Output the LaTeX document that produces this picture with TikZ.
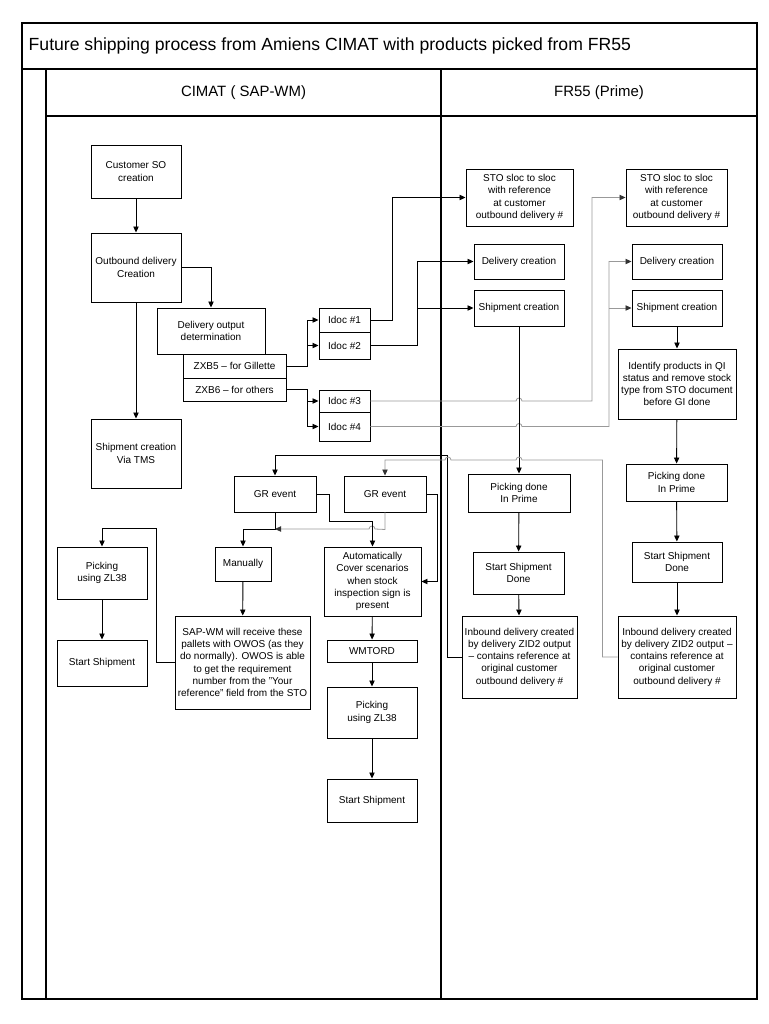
\documentclass[tikz,border=0pt]{standalone}
\usepackage{fontspec}
\setmainfont{Liberation Sans}
\usetikzlibrary{arrows.meta}

\begin{document}
\begin{tikzpicture}[x=0.75pt,y=-0.75pt,
  box/.style={draw,line width=0.7pt,align=center,inner sep=1pt,font=\fontsize{7.5}{9.2}\selectfont},
  boxsize/.style 2 args={minimum width=#1*0.75pt,minimum height=#2*0.75pt},
  arr/.style={line width=0.65pt,-{Triangle[length=4.5pt,width=4pt]}},
  garr/.style={line width=0.6pt,draw=black!40,-{Triangle[length=4.5pt,width=4pt,color=black!80]}},
  lane/.style={line width=1pt}]
\useasboundingbox (0,0) rectangle (768,1024);

% pool and lanes
\draw[line width=1.2pt] (22,23) rectangle (757,999);
\draw[line width=1.2pt] (22,69) -- (757,69);
\draw[lane] (46,69) -- (46,999);
\draw[lane] (441,69) -- (441,999);
\draw[lane] (46,116) -- (757,116);
\node[anchor=west,font=\fontsize{13.2}{15}\selectfont] (title) at (24,46) {Future shipping process from Amiens CIMAT with products picked from FR55};
\node[font=\fontsize{11.2}{13}\selectfont] (cimat) at (243.5,92.5) {CIMAT ( SAP-WM)};
\node[font=\fontsize{11.2}{13}\selectfont] (fr55) at (599,92.5) {FR55 (Prime)};

% CIMAT lane
\node[box,boxsize={90}{53}] (cso) at (136,171.5) {Customer SO\\creation};
\node[box,boxsize={90}{69}] (obd) at (136,267.5) {Outbound delivery\\Creation};
\node[box,boxsize={108}{46}] (dod) at (211,331) {Delivery output\\determination};
\node[box,boxsize={103}{24}] (zxb5) at (234.5,366) {ZXB5 -- for Gillette};
\node[box,boxsize={103}{23}] (zxb6) at (234.5,389.5) {ZXB6 -- for others};
\node[box,boxsize={90}{69}] (tms) at (136,453.5) {Shipment creation\\Via TMS};
\node[box,boxsize={51}{24}] (ido1) at (344.5,320) {Idoc \#1};
\node[box,boxsize={51}{27}] (ido2) at (344.5,345.5) {Idoc \#2};
\node[box,boxsize={51}{22}] (ido3) at (344.5,401) {Idoc \#3};
\node[box,boxsize={51}{29}] (ido4) at (344.5,426.5) {Idoc \#4};
\node[box,boxsize={82}{36}] (gr1) at (275,494) {GR event};
\node[box,boxsize={82}{36}] (gr2) at (385,494) {GR event};
\node[box,boxsize={56}{34}] (man) at (243,564) {Manually};
\node[box,boxsize={97}{69}] (auto) at (372.5,581.5) {Automatically\\Cover scenarios\\when stock\\inspection sign is\\present};
\node[box,boxsize={90}{22}] (wmt) at (372,651) {WMTORD};
\node[box,boxsize={90}{51}] (pick2) at (372,712.5) {Picking\\using ZL38};
\node[box,boxsize={90}{43}] (ss2) at (372,800.5) {Start Shipment};
\node[box,boxsize={135}{93}] (sapwm) at (242.5,662.5) {SAP-WM will receive these\\pallets with OWOS (as they\\do normally). OWOS is able\\to get the requirement\\number from the "Your\\reference" field from the STO};
\node[box,boxsize={90}{52}] (pick1) at (102,573) {Picking\\using ZL38};
\node[box,boxsize={90}{46}] (ss1) at (102,663) {Start Shipment};

% FR55 lane
\node[box,boxsize={107}{57}] (sto1) at (519.5,197.5) {STO sloc to sloc\\with reference\\at customer\\outbound delivery \#};
\node[box,boxsize={90}{35}] (dc1) at (519,261.5) {Delivery creation};
\node[box,boxsize={90}{36}] (sc1) at (519,308) {Shipment creation};
\node[box,boxsize={102}{38}] (pd1) at (519,493) {Picking done\\In Prime};
\node[box,boxsize={91}{42}] (ssd1) at (518.5,573) {Start Shipment\\Done};
\node[box,boxsize={115}{82}] (ibd1) at (519.5,657) {Inbound delivery created\\by delivery ZID2 output\\-- contains reference at\\original customer\\outbound delivery \#};
\node[box,boxsize={101}{57}] (sto2) at (676.5,197.5) {STO sloc to sloc\\with reference\\at customer\\outbound delivery \#};
\node[box,boxsize={90}{35}] (dc2) at (677,261.5) {Delivery creation};
\node[box,boxsize={90}{36}] (sc2) at (677,308) {Shipment creation};
\node[box,boxsize={118}{70}] (idp) at (677,384) {Identify products in QI\\status and remove stock\\type from STO document\\before GI done};
\node[box,boxsize={101}{37}] (pd2) at (676.5,482.5) {Picking done\\In Prime};
\node[box,boxsize={90}{40}] (ssd2) at (677,562) {Start Shipment\\Done};
\node[box,boxsize={118}{82}] (ibd2) at (677,657) {Inbound delivery created\\by delivery ZID2 output --\\contains reference at\\original customer\\outbound delivery \#};

% flow in CIMAT
\draw[arr] (cso) -- (obd);
\draw[arr] (obd.east) -| (dod.north);
\draw[arr] (obd) -- (tms);
\draw[arr] (zxb5.east) -- ++(21,0) coordinate (j5) |- (ido1.west);
\draw[arr] (ido2.west -| j5) -- (ido2.west);
\draw[arr] (zxb6.east) -- ++(21,0) coordinate (j6) |- (ido4.west);
\draw[arr] (ido3.west -| j6) -- (ido3.west);
\draw[arr] (gr1.south) -- ++(0,17) -| (man.north);
\draw[garr] (gr2.south) -- ++(0,17) -- (375,529) arc[start angle=0,end angle=-180,radius=3] -- (275,529);
\draw[arr] (gr1.east) -- ++(13,0) -- ++(0,27) -| (auto.north);
\draw[arr] (gr2.east) -- ++(11,0) |- (auto.east);
\draw[arr] (auto) -- (wmt);
\draw[arr] (wmt) -- (pick2);
\draw[arr] (pick2) -- (ss2);
\draw[arr] (man) -- (sapwm);
\draw[arr] (sapwm.west) -- ++(-18,0) -- ++(0,-134) -| (pick1.north);
\draw[arr] (pick1) -- (ss1);

% Idocs to FR55
\draw[arr] (ido1.east) -- ++(22,0) |- (sto1.west);
\draw[arr] (ido2.east) -- ++(47,0) coordinate (j2) |- (dc1.west);
\draw[arr] (sc1.west -| j2) -- (sc1.west);
\draw[garr] (ido3.east) -- (516,401) arc[start angle=180,end angle=360,radius=3] -- (592,401) |- (sto2.west);
\draw[garr] (ido4.east) -- (516,426.5) arc[start angle=180,end angle=360,radius=3] -- (609,426.5) coordinate (j4) |- (dc2.west);
\draw[garr] (sc2.west -| j4) -- (sc2.west);

% flow in FR55
\draw[arr] (sc1) -- (pd1);
\draw[arr] (pd1) -- (ssd1);
\draw[arr] (ssd1) -- (ibd1);
\draw[arr] (sc2) -- (idp);
\draw[arr] (idp) -- (pd2);
\draw[arr] (pd2) -- (ssd2);
\draw[arr] (ssd2) -- (ibd2);

% back to GR events
\draw[arr] (ibd1.west) -- ++(-14,0) -- ++(0,-202) -| (gr1.north);
\draw[garr] (ibd2.west) -- ++(-15,0) -- ++(0,-197) -- (522,460) arc[start angle=0,end angle=-180,radius=3] -- (451,460) arc[start angle=0,end angle=-180,radius=3] -| (gr2.north);
\end{tikzpicture}
\end{document}
